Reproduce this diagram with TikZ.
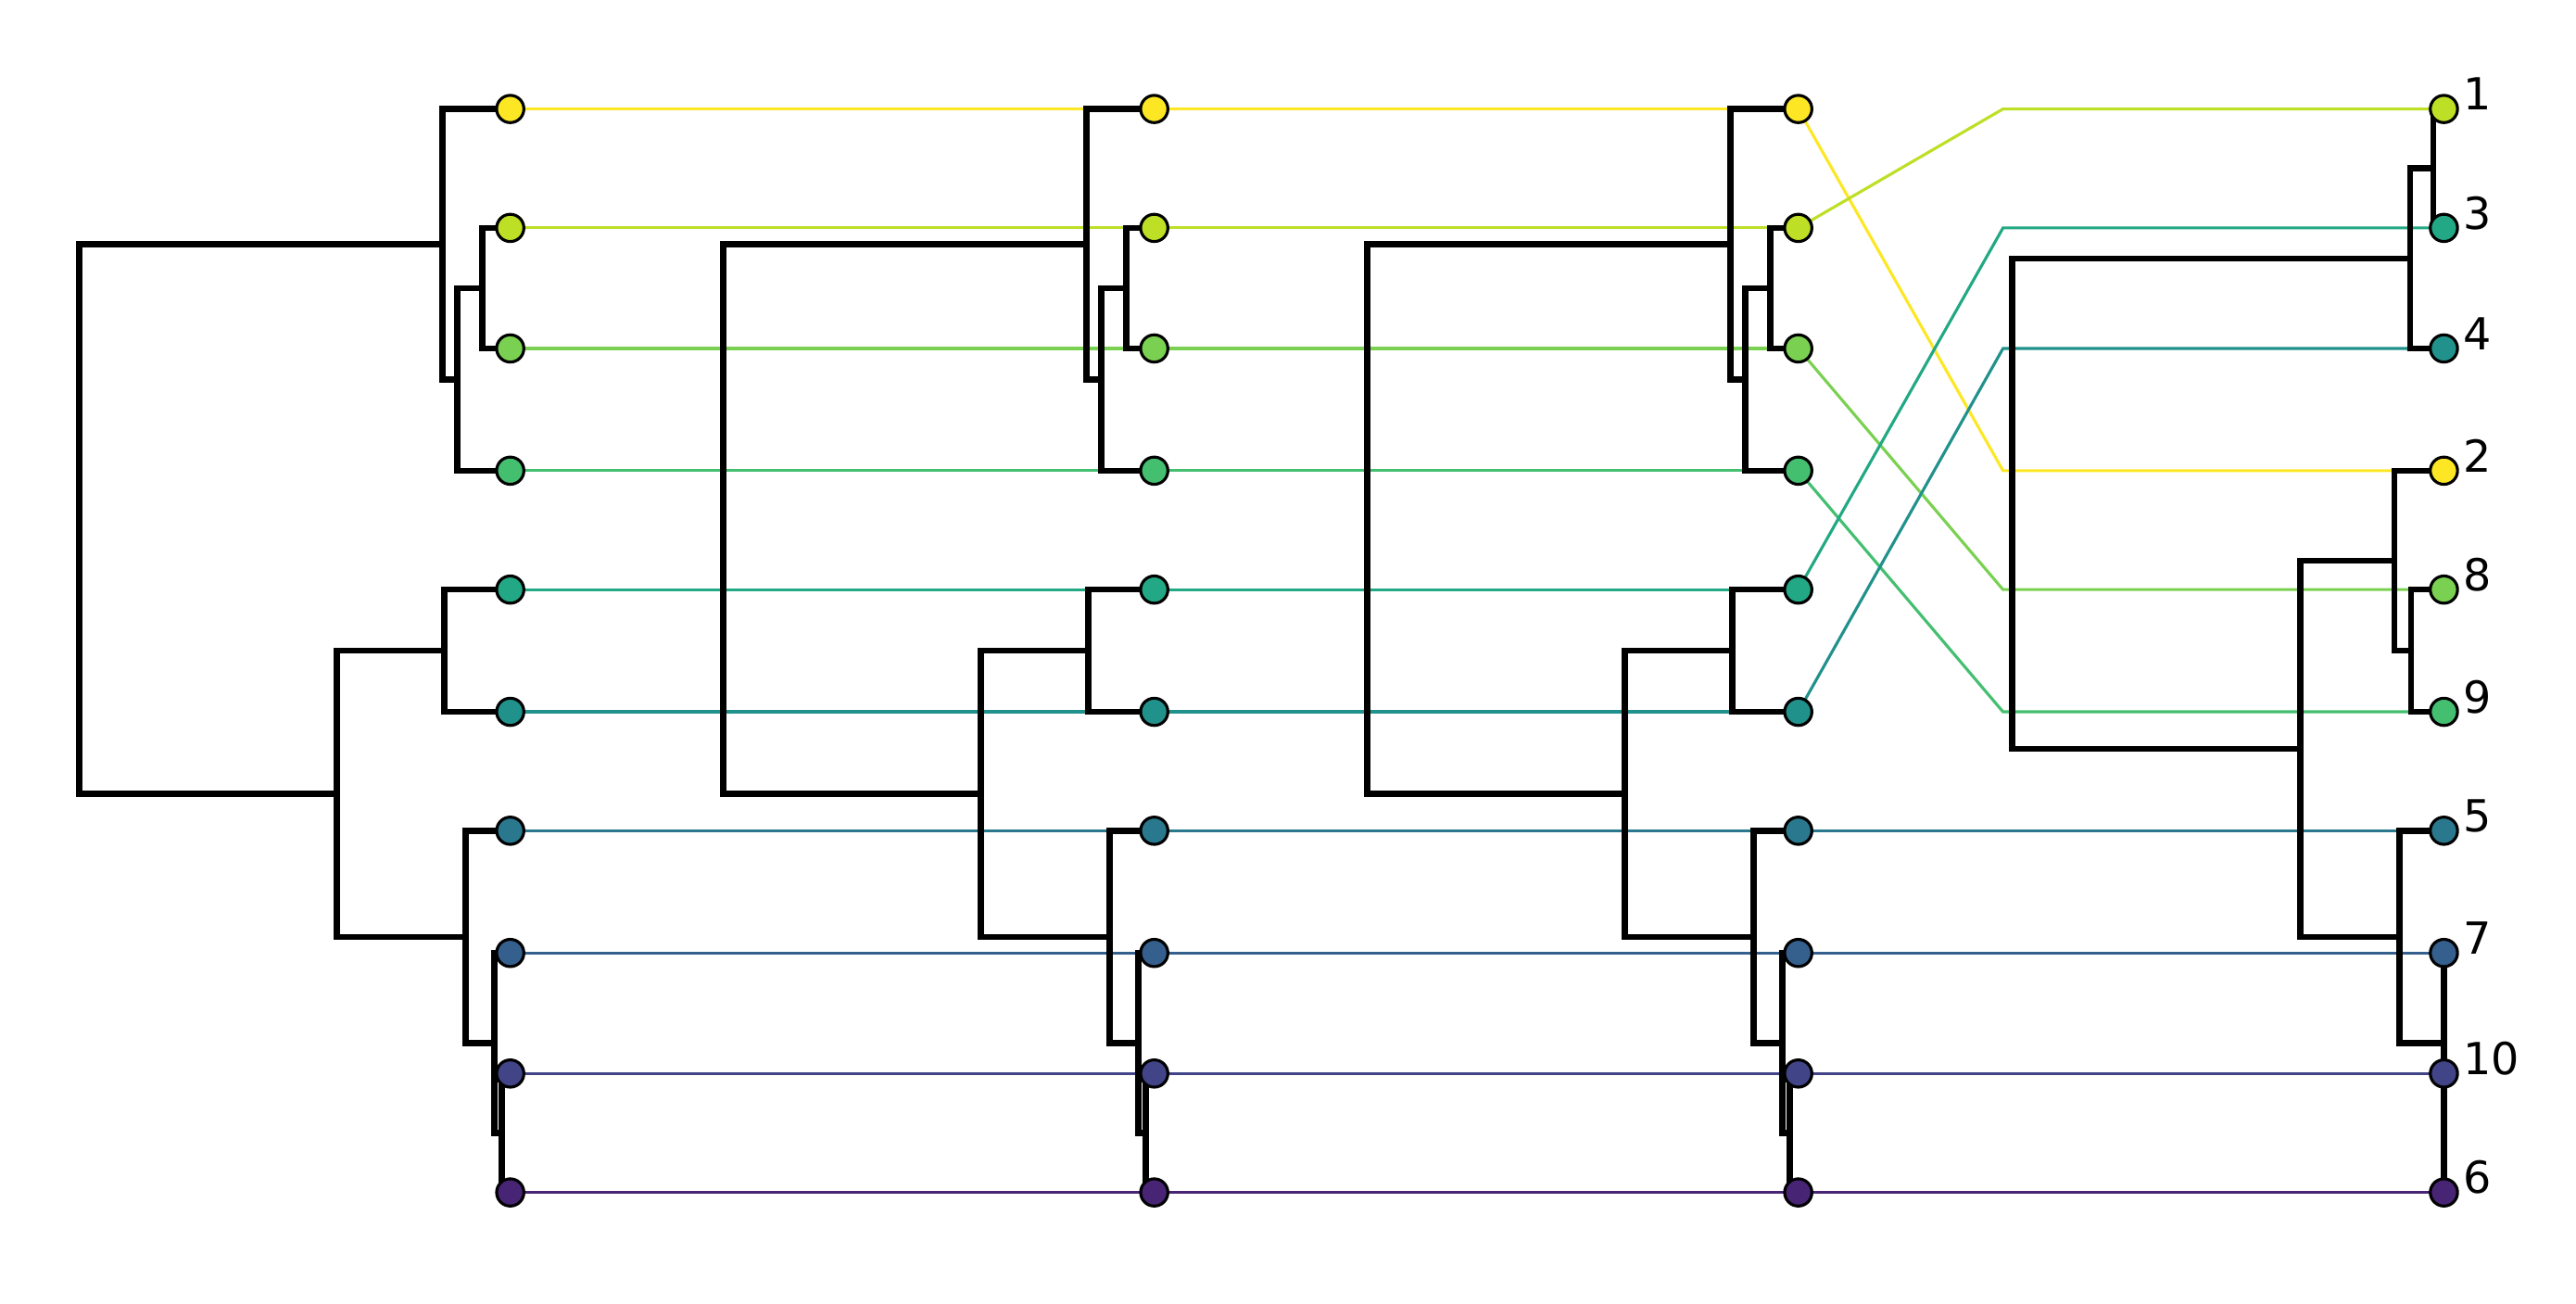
\documentclass[tikz,border=0pt]{standalone}
\usepackage{fontspec}
\setmainfont{DejaVu Sans}
\usetikzlibrary{calc}
\definecolor{v0}{HTML}{FDE725}
\definecolor{v1}{HTML}{BDDF26}
\definecolor{v2}{HTML}{7AD151}
\definecolor{v3}{HTML}{44BF70}
\definecolor{v4}{HTML}{22A884}
\definecolor{v5}{HTML}{21918C}
\definecolor{v6}{HTML}{2A788E}
\definecolor{v7}{HTML}{355F8D}
\definecolor{v8}{HTML}{414487}
\definecolor{v9}{HTML}{482475}
\tikzset{
    leaf/.style={circle, draw=black, line width=0.5pt, inner sep=0pt, minimum size=0.165cm}, % leaf dot
    den/.style={line width=1.05pt, line join=miter, black}, % dendrogram link
    track/.style={line width=0.5pt} % coloured connector
}
\newcommand{\dlink}[3]{\draw[den] (#1) -- (#2 |- #1) -- (#2 |- #3) -- (#3);}

\begin{document}
\begin{tikzpicture}[x=0.01cm, y=-0.01cm, font=\fontsize{7.6}{8}\selectfont]
    \useasboundingbox (0,0) rectangle (1560,789);
    \def\rows{66,138,211,285,357,431,503,577,650,722}

    % leaf positions of the first three trees
    \foreach \c in {0,1,2} {
        \foreach \y [count=\i from 0] in \rows {
            \coordinate (l-\c-\i) at ({309+390*\c}, \y);
        }
    }
    % leaf positions of the reordered tree
    \foreach \y [count=\p from 0] in \rows {
        \coordinate (r-\p) at (1480, \y);
        \coordinate (k-\p) at (1213, \y);
    }

    % tracks between trees
    \foreach \i in {0,...,9} {
        \draw[track, v\i] (l-0-\i) -- (l-1-\i) -- (l-2-\i);
    }
    \foreach \i/\p in {0/3,1/0,2/4,3/5,4/1,5/2,6/6,7/7,8/8,9/9} {
        \draw[track, v\i] (l-2-\i) -- (k-\p) -- (r-\p);
    }

    % first three dendrograms
    \foreach \c in {0,1,2} {
        \pgfmathsetmacro\X{309+390*\c}
        \coordinate (a-\c) at (\X-17, 174.5);
        \coordinate (b-\c) at (\X-32, 229.75);
        \coordinate (c-\c) at (\X-41, 147.9);
        \coordinate (d-\c) at (\X-40, 394);
        \coordinate (e-\c) at (\X-5, 686);
        \coordinate (f-\c) at (\X-9.5, 631.5);
        \coordinate (g-\c) at (\X-27, 567.25);
        \coordinate (h-\c) at (\X-105, 480.6);
        \coordinate (o-\c) at (\X-261, 0);
        \dlink{l-\c-1}{a-\c}{l-\c-2}
        \dlink{l-\c-3}{b-\c}{a-\c}
        \dlink{l-\c-0}{c-\c}{b-\c}
        \dlink{l-\c-4}{d-\c}{l-\c-5}
        \dlink{l-\c-8}{e-\c}{l-\c-9}
        \dlink{l-\c-7}{f-\c}{e-\c}
        \dlink{l-\c-6}{g-\c}{f-\c}
        \dlink{d-\c}{h-\c}{g-\c}
        \dlink{c-\c}{o-\c}{h-\c}
    }

    % reordered dendrogram
    \coordinate (A) at (1473.6, 102);
    \coordinate (B) at (1459.6, 156.5);
    \coordinate (C) at (1460, 394);
    \coordinate (D) at (1450, 339.5);
    \coordinate (E) at (1480, 686);
    \coordinate (F) at (1480, 631.5);
    \coordinate (G) at (1453, 567.25);
    \coordinate (H) at (1393, 453.4);
    \coordinate (R) at (1218.6, 0);
    \dlink{r-0}{A}{r-1}
    \dlink{A}{B}{r-2}
    \dlink{r-4}{C}{r-5}
    \dlink{r-3}{D}{C}
    \dlink{r-8}{E}{r-9}
    \dlink{r-7}{F}{E}
    \dlink{r-6}{G}{F}
    \dlink{D}{H}{G}
    \dlink{B}{R}{H}

    % leaf dots
    \foreach \c in {0,1,2} {
        \foreach \i in {0,...,9} {
            \node[leaf, fill=v\i] (n-\c-\i) at (l-\c-\i) {};
        }
    }
    \foreach \i/\p/\t in {0/3/2,1/0/1,2/4/8,3/5/9,4/1/3,5/2/4,6/6/5,7/7/7,8/8/10,9/9/6} {
        \node[leaf, fill=v\i] (m-\p) at (r-\p) {};
        \node[anchor=west, inner xsep=0.02cm, yshift=0.09cm] (t-\p) at (m-\p.east) {\t};
    }
\end{tikzpicture}
\end{document}
